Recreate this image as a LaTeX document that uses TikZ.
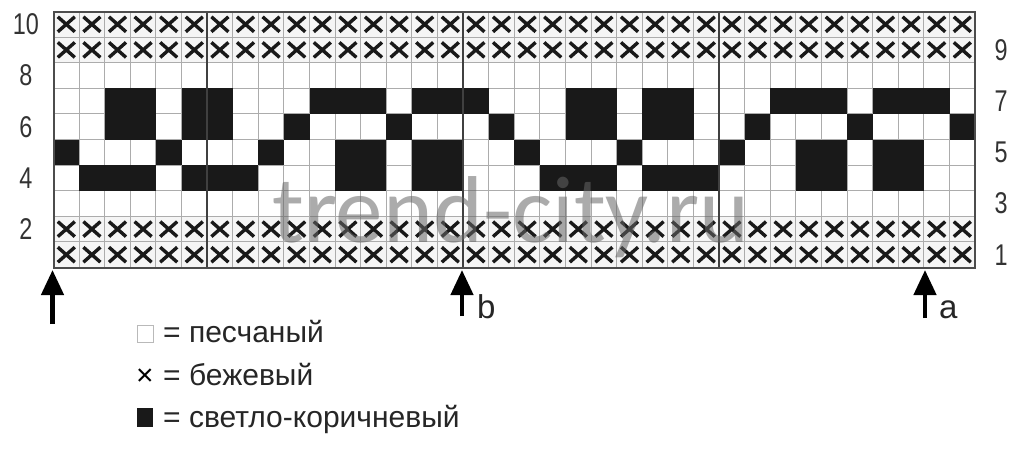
\documentclass[tikz,border=0pt]{standalone}
\usepackage{fontspec}
\setmainfont{Liberation Sans}
\newfontfamily\wmfont{Carlito}
\usetikzlibrary{arrows.meta}
\begin{document}
\begin{tikzpicture}[x=1pt,y=-1pt,
  gridline/.style={draw=gray!65, line width=1.1pt},
  thickline/.style={draw=black!75, line width=2pt},
  blk/.style={fill=black!90},
  xmark/.style={draw=black!90, line width=3.4pt},
  rownum/.style={font=\fontsize{30}{30}\selectfont, text=black!80, xscale=0.78, inner sep=0},
  legend/.style={font=\fontsize{30}{30}\selectfont, text=black!85, anchor=base west, inner sep=0},
  markarrow/.style={line width=4.5pt, -{Triangle[length=25pt 0 0,width=22pt 0 0]}},
  letter/.style={font=\fontsize{33}{33}\selectfont, text=black!85, anchor=base west, inner sep=0},
]
\useasboundingbox[fill=white] (0,0) rectangle (1032,450);
\def\cx{53.5}\def\cy{11.5}\def\cs{25.6}
% light background of the cross rows
\fill[gray!8] (\cx,\cy) rectangle ++(921.6,51.2);
\fill[gray!8] (\cx,{\cy+8*\cs}) rectangle ++(921.6,51.2);
% grid lines
\foreach \i in {1,...,35} \draw[gridline] ({\cx+\i*\cs},\cy) -- ++(0,256);
\foreach \j in {1,...,9} \draw[gridline] (\cx,{\cy+\j*\cs}) -- ++(921.6,0);
% black cells
\foreach \r/\cols in {4/{2,3,4,6,7,8,12,13,15,16}, 5/{1,5,9,12,13,15,16}, 6/{3,4,6,7,10,14,18}, 7/{3,4,6,7,11,12,13,15,16,17}} {
  \foreach \c in \cols {
    \foreach \o in {0,18} {
      \fill[blk] ({\cx+(\c+\o-1)*\cs},{\cy+(10-\r)*\cs}) rectangle ++(\cs,\cs);
    }
  }
}
% thick lines
\foreach \i in {6,16,26} \draw[thickline] ({\cx+\i*\cs},\cy) -- ++(0,256);
% crosses
\foreach \r in {1,2,9,10} {
  \foreach \c in {1,...,36} {
    \draw[xmark] ({\cx+(\c-0.5)*\cs-8.5},{\cy+(10-\r+0.5)*\cs-7.5}) -- ++(17,15)
                 ({\cx+(\c-0.5)*\cs-8.5},{\cy+(10-\r+0.5)*\cs+7.5}) -- ++(17,-15);
  }
}
% border
\draw[draw=black!70, line width=2pt] (\cx,\cy) rectangle ++(921.6,256);
% row numbers
\foreach \r in {10,8,6,4,2} \node[rownum] (L\r) at (26,{\cy+(10-\r+0.5)*\cs}) {\r};
\foreach \r in {9,7,5,3,1} \node[rownum] (R\r) at (1001,{\cy+(10-\r+0.5)*\cs}) {\r};
% watermark
\node[font=\wmfont\fontsize{95}{95}\selectfont, text=black!60, opacity=0.55, anchor=base west, inner sep=0] (wm) at (272,242) {trend-city.ru};
% arrows
\coordinate (s0) at (52.5,324); \coordinate (t0) at (52.5,270);
\coordinate (sb) at (462,316); \coordinate (tb) at (462,270);
\coordinate (sa) at (925,318); \coordinate (ta) at (925,270);
\draw[markarrow] (s0) -- (t0);
\draw[markarrow] (sb) -- (tb);
\draw[markarrow] (sa) -- (ta);
\node[letter] (lb) at (477,318) {b};
\node[letter] (la) at (939,318) {a};
% legend
\draw[draw=gray!55, line width=1pt] (137.5,325.5) rectangle (153,342);
\node[legend] (l1) at (163,342) {= песчаный};
\node[font=\fontsize{30}{30}\selectfont, anchor=base, inner sep=0] (x2) at (145,385) {×};
\node[legend] (l2) at (163,385) {= бежевый};
\fill[black!90] (137,408) rectangle (153,427);
\node[legend] (l3) at (163,427) {= светло-коричневый};
\end{tikzpicture}
\end{document}
